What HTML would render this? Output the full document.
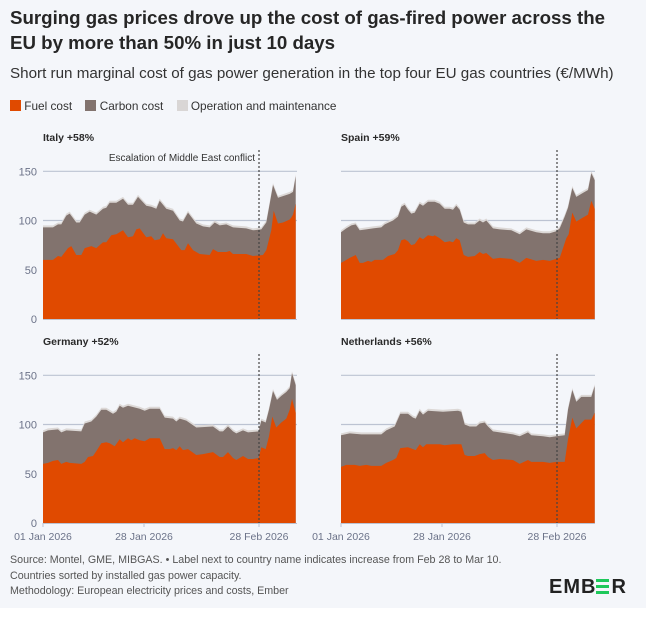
<!DOCTYPE html>
<html><head><meta charset="utf-8"><style>
body{margin:0;width:659px;height:617px;background:#fff;font-family:"Liberation Sans",sans-serif;overflow:hidden;position:relative}
#card{position:absolute;left:0;top:0;width:646px;height:608px;background:#f4f6fa}
.t{position:absolute;white-space:nowrap}
</style></head><body>
<div id="card"></div>
<div class="t" style="left:10px;top:5px;font-size:18.7px;font-weight:bold;color:#262626;line-height:25px">Surging gas prices drove up the cost of gas-fired power across the<br>EU by more than 50% in just 10 days</div>
<div class="t" style="left:10px;top:65px;font-size:15.2px;color:#333">Short run marginal cost of gas power generation in the top four EU gas countries (€/MWh)</div>
<div class="t" style="left:10px;top:99px;font-size:11.8px;color:#333">
<span style="display:inline-block;width:11px;height:11px;background:#e04a00;vertical-align:-1px"></span> Fuel cost
<span style="display:inline-block;width:11px;height:11px;background:#82736e;vertical-align:-1px;margin-left:10px"></span> Carbon cost
<span style="display:inline-block;width:11px;height:11px;background:#d9d6d5;vertical-align:-1px;margin-left:10px"></span> Operation and maintenance</div>
<svg id="s" width="659" height="617" style="position:absolute;left:0;top:0" font-family="Liberation Sans, sans-serif"></svg>
<div class="t" style="left:10px;top:553px;font-size:10.7px;color:#555;line-height:15.5px">Source: Montel, GME, MIBGAS. • Label next to country name indicates increase from Feb 28 to Mar 10.<br>Countries sorted by installed gas power capacity.<br>Methodology: European electricity prices and costs, Ember</div>
<div class="t" style="left:549px;top:576px;font-size:20px;font-weight:bold;color:#222;letter-spacing:1px">EMB<span style="display:inline-block;width:13px;height:15px;position:relative;vertical-align:-1px;margin-right:2px"><i style="position:absolute;left:0;top:0;width:13px;height:3px;background:#1ec85a"></i><i style="position:absolute;left:0;top:6px;width:13px;height:3px;background:#1ec85a"></i><i style="position:absolute;left:0;top:12px;width:13px;height:3px;background:#1ec85a"></i></span>R</div>
<script>
const P=[
{n:"Italy +58%",x0:43,zx0:130,z:319,ann:true,ticks:true,xl:false,
f:[[130,60],[160,60],[175,64],[185,63],[205,72],[215,74],[230,65],[245,65],[255,72],[275,74],[290,72],[310,78],[320,78],[335,85],[350,86],[370,90],[385,83],[400,84],[410,91],[420,92],[440,83],[455,84],[465,80],[480,81],[490,87],[500,82],[520,81],[545,70],[555,70],[565,77],[580,70],[600,66],[630,65],[640,71],[655,68],[680,68],[690,69],[700,66],[740,66],[760,64],[790,65],[800,70],[815,90],[822,110],[835,97],[850,98],[870,101],[875,103],[880,106],[888,117]],
t:[[130,93],[160,93],[175,96],[185,96],[200,105],[210,107],[230,98],[240,98],[255,106],[270,109],[290,106],[310,112],[320,113],[330,118],[350,118],[370,122],[385,116],[400,116],[415,124],[440,115],[455,114],[470,112],[480,120],[500,112],[520,110],[540,100],[550,99],[565,108],[590,97],[610,94],[630,93],[645,98],[660,95],[680,96],[700,93],[740,92],[760,90],[785,91],[800,98],[810,117],[820,136],[835,123],[870,127],[880,129],[888,145]]},
{n:"Spain +59%",x0:341,zx0:34,z:319,ticks:false,xl:false,
f:[[34,57],[45,59],[60,62],[78,65],[90,57],[100,57],[115,59],[125,58],[135,60],[160,60],[175,64],[195,66],[205,70],[215,80],[225,81],[235,79],[245,75],[255,76],[270,83],[280,81],[295,85],[310,84],[315,85],[330,82],[345,78],[360,79],[370,78],[380,82],[390,80],[402,65],[415,63],[435,64],[450,68],[460,66],[470,67],[490,61],[510,62],[545,61],[570,57],[590,62],[600,61],[620,59],[640,60],[660,59],[680,61],[690,62],[700,72],[710,82],[717,86],[728,108],[740,99],[760,103],[775,106],[785,120],[795,112]],
t:[[34,88],[50,92],[65,95],[78,96],[90,90],[110,91],[130,92],[155,93],[165,96],[190,100],[205,104],[215,114],[225,116],[235,111],[245,107],[255,108],[270,117],[280,115],[295,119],[315,119],[330,117],[345,112],[360,112],[370,111],[380,115],[390,111],[402,98],[415,96],[435,96],[450,100],[460,98],[470,100],[490,92],[510,91],[545,90],[570,86],[590,91],[620,88],[640,87],[660,87],[680,89],[690,92],[705,104],[715,113],[728,133],[740,124],[760,128],[775,131],[785,148],[795,141]]},
{n:"Germany +52%",x0:43,zx0:130,z:523,ticks:true,xl:true,
f:[[130,60],[145,61],[160,63],[175,64],[185,60],[200,62],[210,61],[245,60],[255,62],[265,67],[280,68],[290,73],[305,81],[320,82],[330,81],[345,78],[360,85],[370,82],[385,86],[395,84],[405,86],[420,84],[435,83],[450,86],[480,86],[495,75],[510,75],[520,76],[530,74],[540,78],[550,74],[565,75],[590,69],[610,70],[640,72],[660,67],[670,67],[685,72],[700,66],[710,64],[730,68],[745,65],[760,65],[777,66],[785,77],[798,75],[808,88],[818,108],[830,97],[845,102],[860,106],[870,115],[877,126],[888,112]],
t:[[130,92],[145,94],[175,95],[185,92],[200,94],[245,93],[255,101],[275,103],[290,108],[305,115],[320,115],[340,111],[350,113],[360,119],[370,117],[385,119],[420,116],[435,114],[450,116],[480,116],[495,107],[520,106],[530,103],[540,106],[560,104],[590,97],[640,98],[660,93],[670,93],[685,98],[700,93],[710,91],[730,94],[745,92],[777,93],[785,104],[798,102],[808,115],[820,134],[832,125],[845,129],[860,133],[870,137],[877,152],[888,140]]},
{n:"Netherlands +56%",x0:341,zx0:34,z:523,ticks:false,xl:true,
f:[[34,57],[50,59],[75,59],[90,58],[110,59],[125,58],[155,58],[170,61],[190,64],[200,66],[212,76],[235,77],[250,75],[258,74],[270,80],[280,77],[290,80],[330,80],[345,79],[370,80],[395,80],[405,69],[415,68],[435,68],[450,70],[465,71],[475,67],[490,64],[510,65],[550,64],[570,60],[595,64],[605,62],[640,62],[660,61],[680,62],[705,62],[715,85],[728,107],[740,96],[765,105],[785,105],[795,112]],
t:[[34,89],[60,91],[95,90],[125,90],[155,90],[170,94],[195,98],[212,111],[235,111],[250,107],[258,106],[270,114],[280,110],[295,114],[340,113],[385,114],[395,113],[405,100],[420,98],[440,98],[450,101],[465,102],[475,98],[490,93],[550,90],[570,88],[595,92],[605,89],[640,88],[660,87],[680,88],[705,89],[715,115],[728,135],[740,123],[755,128],[785,128],[795,139]]}];
let h="";const k=0.985;
for(const p of P){
 const X=zx=>(p.x0+(zx-p.zx0)/3).toFixed(1),Y=v=>(p.z-v*k).toFixed(1);
 const W=254,x1=p.x0+W;
 h+=`<text x="${p.x0}" y="${p.z-182+4}" font-size="10.5" font-weight="bold" fill="#2a2a2a">${p.n}</text>`;
 for(const v of [100,150]) h+=`<line x1="${p.x0}" x2="${x1}" y1="${Y(v)}" y2="${Y(v)}" stroke="#bcc3d2" stroke-width="1.2"/>`;
 const area=(arr,o)=>{let s=`M${X(arr[0][0])},${p.z}`;for(const a of arr)s+=`L${X(a[0])},${Y(a[1]+o)}`;s+=`L${X(arr[arr.length-1][0])},${p.z}Z`;return s;};
 h+=`<path d="${area(p.t,2)}" fill="#dcd8d6"/>`;
 h+=`<path d="${area(p.t,0)}" fill="#82736e"/>`;
 h+=`<path d="${area(p.f,0)}" fill="#e04a00"/>`;
 const dx=p.x0+216;
 h+=`<line x1="${dx}" x2="${dx}" y1="${p.z-169}" y2="${p.z}" stroke="#444" stroke-width="1.2" stroke-dasharray="2,2"/>`;
 h+=`<line x1="${p.x0}" x2="${x1}" y1="${p.z+0.5}" y2="${p.z+0.5}" stroke="#bcc3d2"/>`;
 if(p.ann) h+=`<text x="${dx-4}" y="${p.z-158}" font-size="10" fill="#333" text-anchor="end">Escalation of Middle East conflict</text>`;
 if(p.ticks) for(const v of [0,50,100,150]) h+=`<text x="37" y="${(p.z-v*k+4).toFixed(1)}" font-size="11" fill="#6b7288" text-anchor="end">${v}</text>`;
 if(p.xl){for(const [o,l] of [[0,"01 Jan 2026"],[101,"28 Jan 2026"],[216,"28 Feb 2026"]]){h+=`<line x1="${p.x0+o}" x2="${p.x0+o}" y1="${p.z}" y2="${p.z+4}" stroke="#bcc3d2"/><text x="${p.x0+o}" y="${p.z+17}" font-size="10.5" fill="#6b7288" text-anchor="middle">${l}</text>`;}}
}
document.getElementById("s").innerHTML=h;
</script>
</body></html>
